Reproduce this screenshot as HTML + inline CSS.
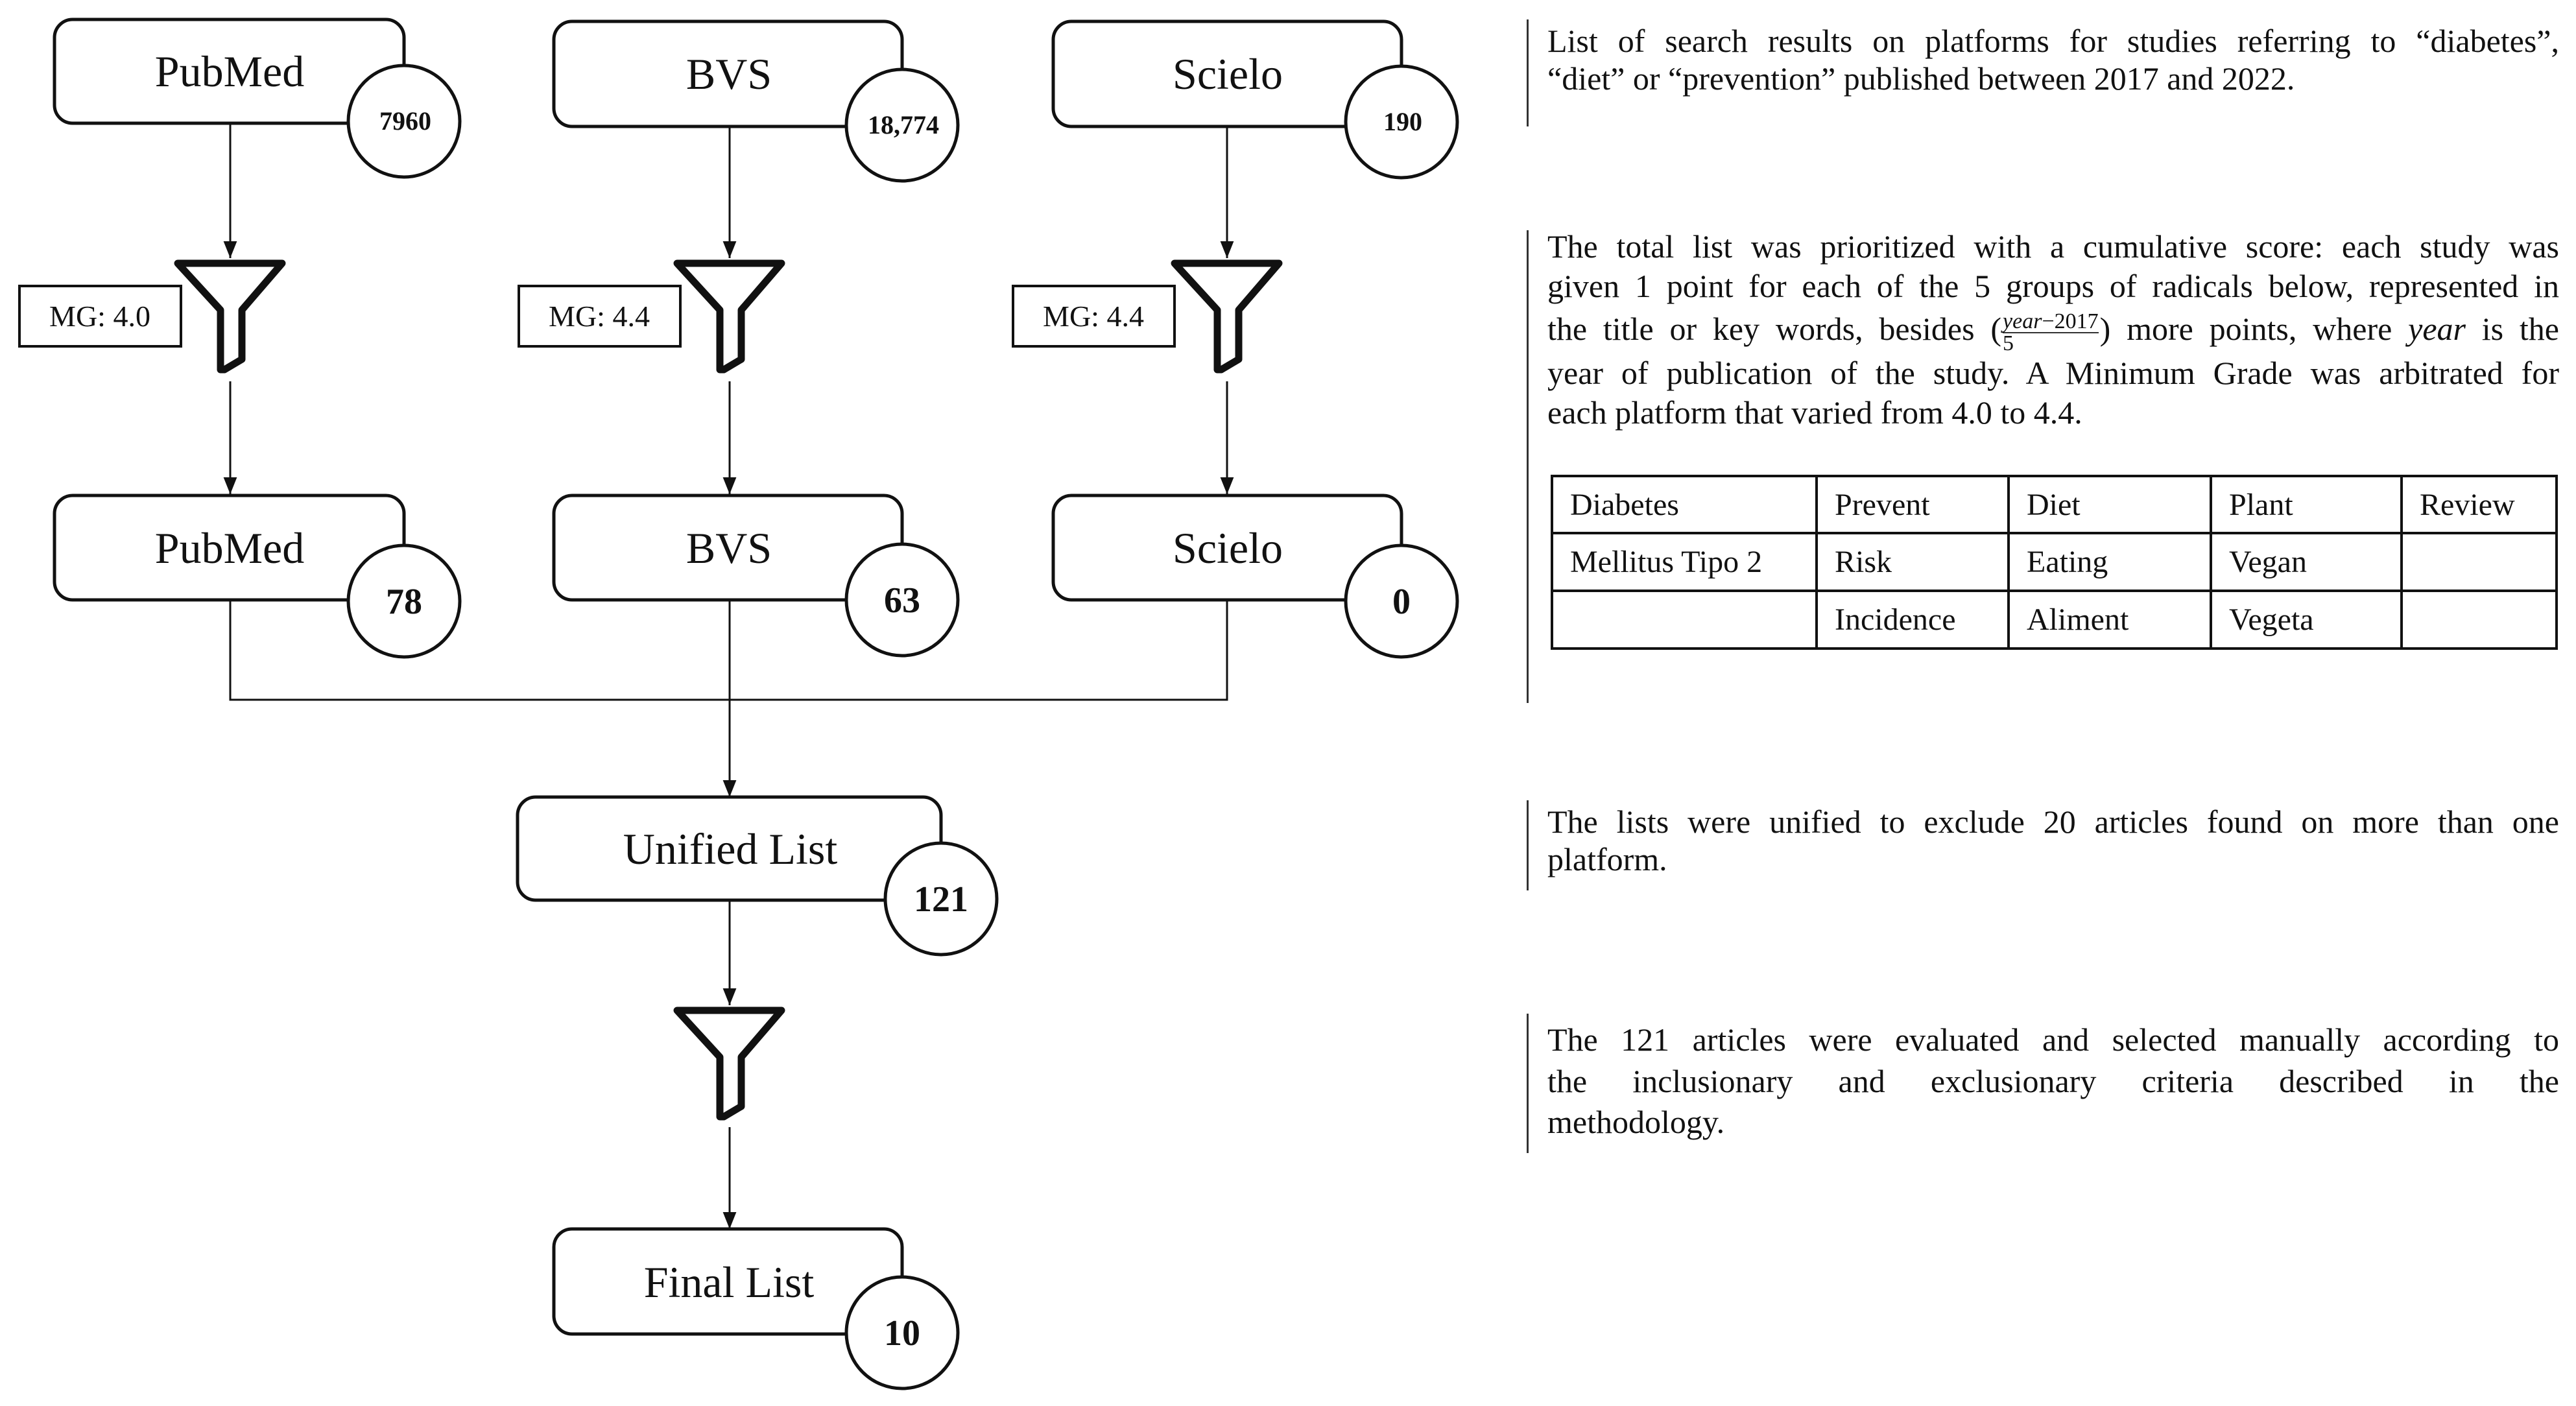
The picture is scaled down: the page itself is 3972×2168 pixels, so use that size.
<!DOCTYPE html>
<html><head><meta charset="utf-8"><style>
body{margin:0;width:3972px;height:2168px;background:#fff;position:relative;overflow:hidden;font-family:"Liberation Serif",serif;color:#111}
.l{position:absolute;left:2386px;width:1560px;font-size:50px;line-height:58px;text-align:justify;text-align-last:justify;white-space:nowrap}
.l.e{text-align-last:left}
.bar{position:absolute;left:2354px;width:3px;background:#333}
table{position:absolute;left:2391px;top:732px;width:1553px;border-collapse:collapse;font-size:48px}
td{border:4px solid #111;padding:0 26px;height:80px;box-sizing:border-box}
.fr{display:inline-block;vertical-align:middle;text-align:center;font-size:34px;line-height:32px;margin:0 2px}
.fr span{display:block}
</style></head><body>
<svg width="3972" height="2168" style="position:absolute;left:0;top:0" font-family="Liberation Serif, serif">
<defs>
<marker id="b" viewBox="0 0 10 10" refX="10" refY="5" markerWidth="26" markerHeight="26" orient="auto" markerUnits="userSpaceOnUse"><path d="M0,1 L10,5 L0,9z" fill="#111"/></marker>
<g id="fun"><path d="M6,8 L167,8 L105,80 L105,156 L78,172 L72,172 L72,80 Z" fill="#fff" stroke="#111" stroke-width="11" stroke-linejoin="round"/></g>
</defs>
<g stroke="#111" stroke-width="3" fill="none">
<line x1="355" y1="190" x2="355" y2="398" marker-end="url(#b)"/>
<line x1="1125" y1="195" x2="1125" y2="398" marker-end="url(#b)"/>
<line x1="1892" y1="195" x2="1892" y2="398" marker-end="url(#b)"/>
<line x1="355" y1="588" x2="355" y2="762" marker-end="url(#b)"/>
<line x1="1125" y1="588" x2="1125" y2="762" marker-end="url(#b)"/>
<line x1="1892" y1="588" x2="1892" y2="762" marker-end="url(#b)"/>
<polyline points="355,925 355,1079 1892,1079 1892,925"/>
<line x1="1125" y1="925" x2="1125" y2="1229" marker-end="url(#b)"/>
<line x1="1125" y1="1388" x2="1125" y2="1550" marker-end="url(#b)"/>
<line x1="1125" y1="1738" x2="1125" y2="1895" marker-end="url(#b)"/>
</g>
<g stroke="#111" stroke-width="5" fill="#fff">
<rect x="84" y="30" width="539" height="160" rx="28"/>
<rect x="854" y="33" width="537" height="162" rx="28"/>
<rect x="1624" y="33" width="537" height="162" rx="28"/>
<rect x="84" y="764" width="539" height="161" rx="28"/>
<rect x="854" y="764" width="537" height="161" rx="28"/>
<rect x="1624" y="764" width="537" height="161" rx="28"/>
<rect x="798" y="1229" width="653" height="159" rx="28"/>
<rect x="854" y="1895" width="537" height="162" rx="28"/>
<ellipse cx="623" cy="187" rx="86" ry="86"/>
<ellipse cx="1391" cy="193" rx="86" ry="86"/>
<ellipse cx="2161" cy="188" rx="86" ry="86"/>
<ellipse cx="623" cy="927" rx="86" ry="86"/>
<ellipse cx="1391" cy="925" rx="86" ry="86"/>
<ellipse cx="2161" cy="927" rx="86" ry="86"/>
<ellipse cx="1451" cy="1386" rx="86" ry="86"/>
<ellipse cx="1391" cy="2055" rx="86" ry="86"/>
</g>
<g stroke="#111" stroke-width="4" fill="#fff">
<rect x="30" y="441" width="249" height="93"/>
<rect x="800" y="441" width="249" height="93"/>
<rect x="1562" y="441" width="249" height="93"/>
</g>
<use href="#fun" x="268" y="398"/>
<use href="#fun" x="1038" y="398"/>
<use href="#fun" x="1805" y="398"/>
<use href="#fun" x="1038" y="1550"/>
<g font-size="68" text-anchor="middle" fill="#111">
<text x="354" y="133">PubMed</text>
<text x="1124" y="137">BVS</text>
<text x="1893" y="137">Scielo</text>
<text x="354" y="868">PubMed</text>
<text x="1124" y="868">BVS</text>
<text x="1893" y="868">Scielo</text>
<text x="1126" y="1332">Unified List</text>
<text x="1124" y="2000">Final List</text>
</g>
<g font-size="46" text-anchor="middle" fill="#111">
<text x="154" y="503">MG: 4.0</text>
<text x="924" y="503">MG: 4.4</text>
<text x="1686" y="503">MG: 4.4</text>
</g>
<g font-weight="bold" text-anchor="middle" fill="#111">
<text x="625" y="200" font-size="40">7960</text>
<text x="1393" y="206" font-size="40">18,774</text>
<text x="2163" y="201" font-size="40">190</text>
<text x="623" y="946" font-size="56">78</text>
<text x="1391" y="944" font-size="56">63</text>
<text x="2161" y="946" font-size="56">0</text>
<text x="1451" y="1405" font-size="56">121</text>
<text x="1391" y="2074" font-size="56">10</text>
</g>
</svg>
<div class="bar" style="top:30px;height:165px"></div>
<div class="bar" style="top:355px;height:729px"></div>
<div class="bar" style="top:1234px;height:139px"></div>
<div class="bar" style="top:1563px;height:215px"></div>
<div class="l" style="top:34px">List of search results on platforms for studies referring to “diabetes”,</div>
<div class="l e" style="top:92px">“diet” or “prevention” published between 2017 and 2022.</div>
<div class="l" style="top:351px">The total list was prioritized with a cumulative score: each study was</div>
<div class="l" style="top:412px">given 1 point for each of the 5 groups of radicals below, represented in</div>
<div class="l" style="top:478px">the title or key words, besides (<span class="fr"><span style="border-bottom:2px solid #333"><i>year</i>−2017</span><span>5</span></span>) more points, where <i>year</i> is the</div>
<div class="l" style="top:546px">year of publication of the study. A Minimum Grade was arbitrated for</div>
<div class="l e" style="top:607px">each platform that varied from 4.0 to 4.4.</div>
<table>
<tr><td style="width:408px;height:88px">Diabetes</td><td style="width:296px">Prevent</td><td style="width:312px">Diet</td><td style="width:294px">Plant</td><td>Review</td></tr>
<tr><td style="height:89px">Mellitus Tipo 2</td><td>Risk</td><td>Eating</td><td>Vegan</td><td></td></tr>
<tr><td style="height:89px"></td><td>Incidence</td><td>Aliment</td><td>Vegeta</td><td></td></tr>
</table>
<div class="l" style="top:1238px">The lists were unified to exclude 20 articles found on more than one</div>
<div class="l e" style="top:1296px">platform.</div>
<div class="l" style="top:1574px">The 121 articles were evaluated and selected manually according to</div>
<div class="l" style="top:1638px">the inclusionary and exclusionary criteria described in the</div>
<div class="l e" style="top:1701px">methodology.</div>
</body></html>
